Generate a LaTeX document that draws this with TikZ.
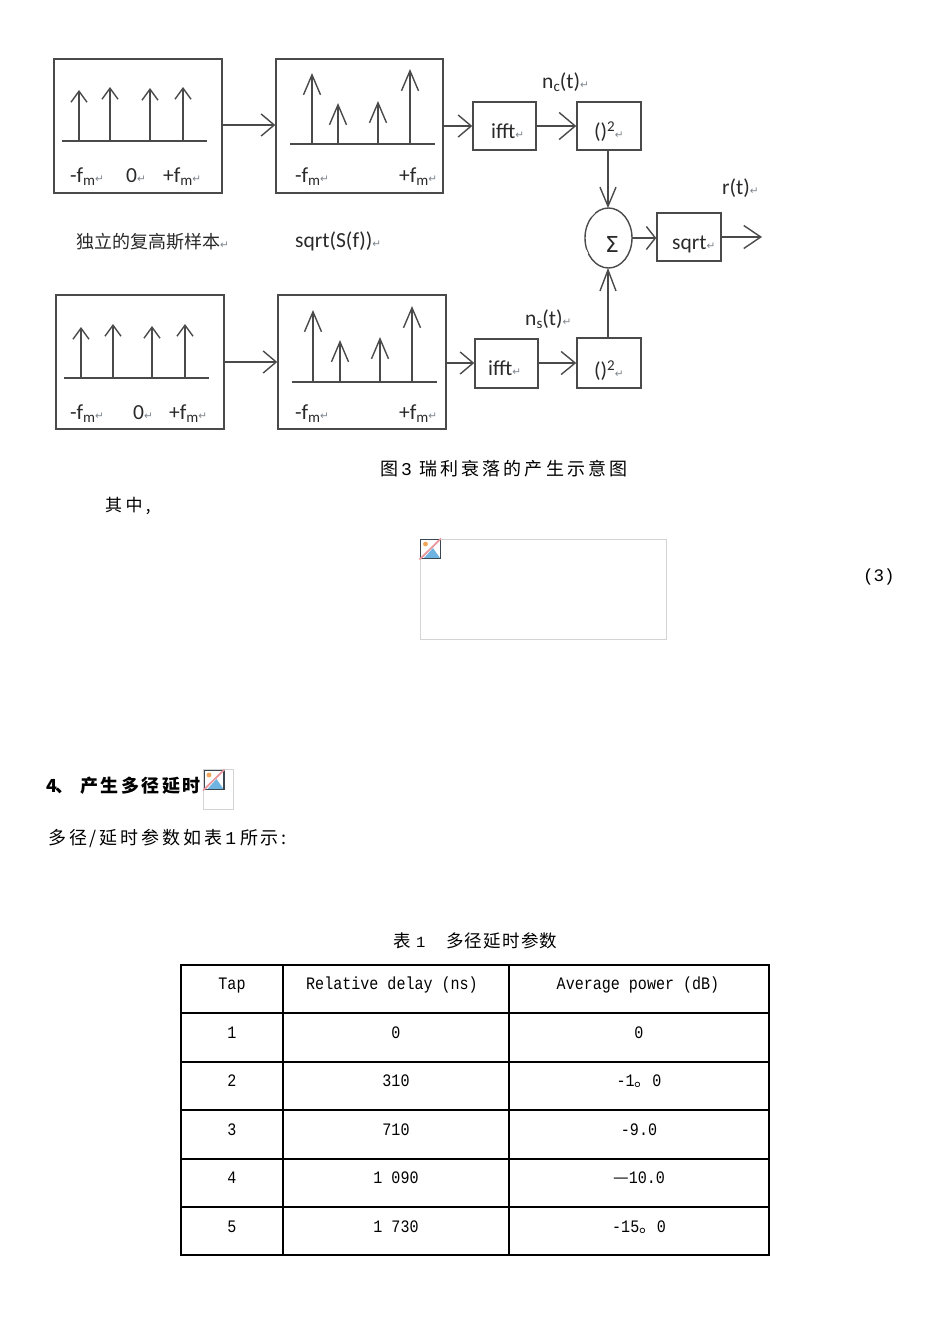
\documentclass[tikz,border=0pt]{standalone}
\usepackage{fontspec}
\usetikzlibrary{arrows.meta,shapes.geometric}
\setmainfont{Carlito}
\newfontfamily\cjk{Noto Sans CJK SC}
\newfontfamily\retfont{DejaVu Sans}
\newfontfamily\monof{Liberation Mono}
\newfontfamily\monon[FakeStretch=0.86]{Liberation Mono}
\definecolor{ln}{HTML}{4A4A4A}
\definecolor{txt}{HTML}{2A2A2A}
\definecolor{retc}{HTML}{7E868E}
\newcommand\ret{{\retfont\fontsize{10.5}{10.5}\selectfont\textcolor{retc}{↵}}}
\newcommand\subs[1]{\raisebox{-3pt}{\fontsize{15}{15}\selectfont #1}}
\newcommand\sups[1]{\raisebox{7pt}{\fontsize{15}{15}\selectfont #1}}
\newcommand\stems[3]{%
  \foreach \sx/\st [count=\si] in {#3}{
    \coordinate (#1b\si) at (\sx,#2);
    \coordinate (#1t\si) at (\sx,\st);
    \draw[stem] (#1b\si) -- (#1t\si);
  }}
\newcommand\brokenpic[2]{%
  \begin{scope}[shift={(#1,#2)}]
    \fill[fill=white] (0,0) rectangle (21,20);
    \fill[fill=iconblue] (4,19) -- (13,9) -- (20,19) -- cycle;
    \fill[fill=iconorange] (5.5,5) circle (2.4);
    \draw[draw=icondark,line width=1.4pt] (0.7,0.7) rectangle (20.3,19.3);
    \draw[draw=iconpink,line width=1.7pt] (-0.5,20.5) -- (21,-0.5);
  \end{scope}}
\definecolor{iconblue}{HTML}{6FB3E0}
\definecolor{iconorange}{HTML}{F2A65A}
\definecolor{icondark}{HTML}{3A4750}
\definecolor{iconpink}{HTML}{E8959B}
\definecolor{frame}{HTML}{D4D4D4}
\tikzset{
  block/.style={draw=ln,line width=1.5pt,fill=white,inner sep=0pt,minimum width=#1},
  conn/.style={draw=ln,line width=1.4pt,-{Straight Barb[length=#1]}},
  stem/.style={draw=ln,line width=1.4pt},
  axisline/.style={draw=ln,line width=1.5pt},
  lbl/.style={anchor=base west,inner sep=0pt,text=txt,font=\fontsize{21.5}{24}\selectfont},
  doc/.style={anchor=base west,inner sep=0pt,text=black,font=\cjk\fontsize{18}{22}\selectfont},
  cell/.style={anchor=base,inner sep=0pt,text=black,font=\monon\fontsize{17.5}{18}\selectfont},
  rule/.style={draw=black,line width=1.4pt}
}
\begin{document}
\begin{tikzpicture}[x=1pt,y=-1pt]
\useasboundingbox[fill=white] (0,0) rectangle (950,1344);

% ---- blocks
\node[block=168pt,minimum height=134pt] (a1) at (138,126) {};
\node[block=167pt,minimum height=134pt] (a2) at (359.5,126) {};
\node[block=168pt,minimum height=134pt] (b1) at (140,362) {};
\node[block=168pt,minimum height=134pt] (b2) at (362,362) {};
\node[block=63pt,minimum height=48pt] (if1) at (504.5,126) {};
\node[block=64pt,minimum height=48pt] (sq1) at (609,126) {};
\node[block=63pt,minimum height=49pt] (if2) at (506.5,363.5) {};
\node[block=64pt,minimum height=50pt] (sq2) at (609,363) {};
\node[block=64pt,minimum height=48pt] (sr) at (689,237) {};
\node[draw=ln,line width=1.4pt,ellipse,minimum width=47pt,minimum height=60pt,inner sep=0pt,outer sep=0pt] (sum) at (608.5,238) {};
\coordinate (out) at (762,237);

% ---- breaks in the circle outline
\coordinate (g1a) at (590,216); \coordinate (g1b) at (594,212);
\coordinate (g2a) at (585,250); \coordinate (g2b) at (587,254);
\draw[draw=white,line width=2.5pt] (g1a) -- (g1b);
\draw[draw=white,line width=2.5pt] (g2a) -- (g2b);

% ---- axes and impulses
\coordinate (a1L) at (62,141); \coordinate (a1R) at (207,141);
\coordinate (a2L) at (290,144); \coordinate (a2R) at (435,144);
\coordinate (b1L) at (64,378); \coordinate (b1R) at (209,378);
\coordinate (b2L) at (292,382); \coordinate (b2R) at (437,382);
\draw[axisline] (a1L) -- (a1R);
\draw[axisline] (a2L) -- (a2R);
\draw[axisline] (b1L) -- (b1R);
\draw[axisline] (b2L) -- (b2R);
\tikzset{stem/.append style={-{Straight Barb[length=11pt,width=16pt]}}}
\stems{p}{141}{79/90,110/87,150/88,183/87}
\stems{q}{378}{81/327,113/324,152/326,185/324}
\tikzset{stem/.append style={-{Straight Barb[length=20pt,width=17pt]}}}
\stems{r}{144}{312/73,338/103,378/101,410/69}
\stems{s}{382}{313/310,340/340,380/337,412/306}

% ---- connectors
\draw[conn={13pt,width=22pt}] (a1.east |- 0,125) -- (a2.west |- 0,125);
\draw[conn={13pt,width=22pt}] (b1.east |- 0,362) -- (b2.west |- 0,362);
\draw[conn={13pt,width=22pt}] (a2.east |- 0,126) -- (if1.west |- 0,126);
\draw[conn={13pt,width=22pt}] (b2.east |- 0,363) -- (if2.west |- 0,363);
\draw[conn={16pt,width=27pt}] (if1.east |- 0,126) -- (sq1.west |- 0,126);
\draw[conn={14pt,width=23pt}] (if2.east |- 0,363) -- (sq2.west |- 0,363);
\draw[conn={19pt,width=16pt}] (sq1.south -| 608,0) -- (sum.north -| 608,0);
\draw[conn={21pt,width=16pt}] (sq2.north -| 608,0) -- (sum.south -| 608,0);
\draw[conn={9pt,width=23pt}] (sum.east) -- (sr.west |- sum.east);
\draw[conn={17pt,width=23pt}] (sr.east |- out) -- (out);

% ---- diagram labels
\node[lbl] (l1) at (70,182) {-f\subs{m}\ret};
\node[lbl] (l2) at (126,182) {0\ret};
\node[lbl] (l3) at (163,182) {+f\subs{m}\ret};
\node[lbl] (l4) at (295,182) {-f\subs{m}\ret};
\node[lbl] (l5) at (399,182) {+f\subs{m}\ret};
\node[lbl] (l6) at (70,419) {-f\subs{m}\ret};
\node[lbl] (l7) at (133,419) {0\ret};
\node[lbl] (l8) at (169,419) {+f\subs{m}\ret};
\node[lbl] (l9) at (295,419) {-f\subs{m}\ret};
\node[lbl] (l10) at (399,419) {+f\subs{m}\ret};
\node[lbl,font=\cjk\fontsize{18}{22}\selectfont] (l11) at (76,248) {独立的复高斯样本\ret};
\node[lbl] (l12) at (295,247) {sqrt(S(f))\ret};
\node[lbl] (l13) at (542,88) {n\subs{c}(t)\ret};
\node[lbl] (l14) at (525,325) {n\subs{s}(t)\ret};
\node[lbl] (l15) at (722,194) {r(t)\ret};
\node[lbl] (l16) at (491,138) {ifft\ret};
\node[lbl] (l17) at (488,375) {ifft\ret};
\node[lbl] (l18) at (594,138) {()\sups{2}\ret};
\node[lbl] (l19) at (594,377) {()\sups{2}\ret};
\node[lbl] (l20) at (672,249) {sqrt\ret};
\node[anchor=center,inner sep=0pt,text=txt,font=\retfont\fontsize{22}{24}\selectfont] (l21) at (612,244) {Σ};

% ---- document text
\node[doc,font=\cjk\fontsize{18}{22}\selectfont\addfontfeature{LetterSpace=17.5}] (cap) at (380,475) {图\,{\monof 3} 瑞利衰落的产生示意图};
\node[doc,font=\cjk\fontsize{17}{22}\selectfont\addfontfeature{LetterSpace=20}] (qz) at (105,511) {其中,};
\node[doc,font=\monof\fontsize{17.5}{22}\selectfont] (eqn) at (863,581) {(3)};
\node[draw=frame,line width=1pt,minimum width=246pt,minimum height=100pt,inner sep=0pt] (ph1) at (543,589) {};
\brokenpic{420}{539}
\node[draw=frame,line width=1pt,minimum width=30pt,minimum height=40pt,inner sep=0pt] (ph2) at (218,789) {};
\brokenpic{203.5}{770}
\node[doc,font=\cjk\bfseries\fontsize{18}{22}\selectfont] (hd1) at (46,792) {4};
\node[doc,font=\cjk\bfseries\fontsize{18}{22}\selectfont] (hd2) at (55,792) {、};
\node[doc,font=\cjk\bfseries\fontsize{18}{22}\selectfont\addfontfeature{LetterSpace=14}] (hd3) at (80,792) {产生多径延时};
\node[doc,font=\cjk\fontsize{18}{22}\selectfont\addfontfeature{LetterSpace=16}] (para) at (48,844) {多径/延时参数如表\hspace{3pt}{\monof 1}\hspace{4pt}所示:};
\node[doc,font=\cjk\fontsize{17.5}{22}\selectfont] (tc1) at (393,947) {表};
\node[doc,font=\monof\fontsize{15.5}{18}\selectfont] (tc2) at (416,947) {1};
\node[doc,font=\cjk\fontsize{17.5}{22}\selectfont\addfontfeature{LetterSpace=7}] (tc3) at (446,947) {多径延时参数};

% ---- table
\foreach \yy in {965,1013,1062,1110,1159,1207,1255}{
  \coordinate (hl\yy) at (181,\yy); \coordinate (hr\yy) at (769.5,\yy);
  \draw[rule] (hl\yy) -- (hr\yy);
}
\foreach \xx in {181,283,509,769}{
  \coordinate (vt\xx) at (\xx,964.3); \coordinate (vb\xx) at (\xx,1255.7);
  \draw[rule] (vt\xx) -- (vb\xx);
}
\node[cell] (c11) at (232,989) {Tap};
\node[cell] (c12) at (392,989) {Relative delay (ns)};
\node[cell] (c13) at (638,989) {Average power (dB)};
\node[cell] (c21) at (232,1038) {1};
\node[cell] (c22) at (396,1038) {0};
\node[cell] (c23) at (639,1038) {0};
\node[cell] (c31) at (232,1086) {2};
\node[cell] (c32) at (396,1086) {310};
\node[cell] (c33) at (639,1086) {-1{\cjk 。}0};
\node[cell] (c41) at (232,1135) {3};
\node[cell] (c42) at (396,1135) {710};
\node[cell] (c43) at (639,1135) {-9.0};
\node[cell] (c51) at (232,1183) {4};
\node[cell] (c52) at (396,1183) {1 090};
\node[cell] (c53) at (639,1183) {{\cjk —}10.0};
\node[cell] (c61) at (232,1232) {5};
\node[cell] (c62) at (396,1232) {1 730};
\node[cell] (c63) at (639,1232) {-15{\cjk 。}0};
\end{tikzpicture}
\end{document}
